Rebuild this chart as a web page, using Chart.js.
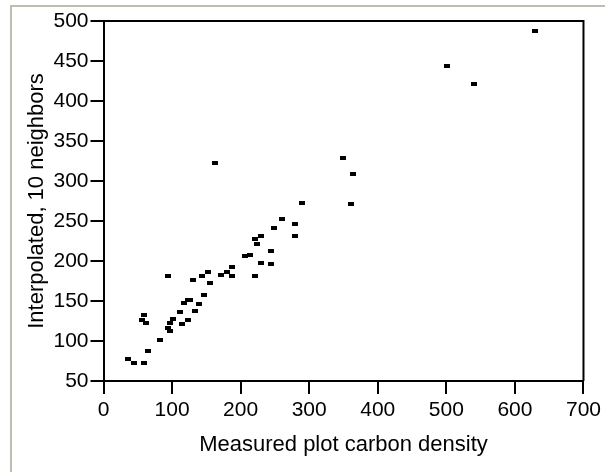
<!DOCTYPE html>
<html>
<head>
<meta charset="utf-8">
<script src="https://cdn.jsdelivr.net/npm/chart.js@4"></script>
<style>
  html, body { margin: 0; padding: 0; background: #fff; }
  #wrap { position: relative; width: 605px; height: 472px; overflow: hidden; }
  #frame { position: absolute; left: 10px; top: 5px; width: 700px; height: 600px;
           border-left: 2px solid #bdbdb0; border-top: 2px solid #bdbdb0; }
  canvas { position: absolute; left: 0; top: 0; }
</style>
</head>
<body>
<div id="wrap">
  <div id="frame"></div>
  <canvas id="c" width="605" height="472"></canvas>
</div>
<script>
// Data
const measured = [629, 501, 541, 350, 364, 361, 163, 289, 260, 280, 248, 221, 230, 280, 224, 245, 207, 213, 230, 245,
                  187, 172, 180, 187, 221, 152, 143, 131, 155, 94, 146, 117, 123, 126, 140, 134, 111, 102, 97, 123,
                  114, 94, 97, 59, 56, 62, 82, 65, 36, 44, 59];
const interpolated = [487, 444, 421, 329, 309, 271, 323, 273, 253, 246, 241, 228, 231, 231, 221, 213, 206, 208, 198, 196,
                      193, 183, 186, 181, 181, 186, 181, 176, 173, 181, 158, 148, 151, 151, 146, 138, 136, 128, 123, 126,
                      121, 116, 113, 133, 126, 123, 101, 88, 78, 73, 73];
const xTicks = [0, 100, 200, 300, 400, 500, 600, 700];
const yTicks = [50, 100, 150, 200, 250, 300, 350, 400, 450, 500];
const xTitle = 'Measured plot carbon density';
const yTitle = 'Interpolated, 10 neighbors';

const points = measured.map((x, i) => ({ x: x, y: interpolated[i] }));

// small rectangular marker
const marker = document.createElement('canvas');
marker.width = 6; marker.height = 4;
const mctx = marker.getContext('2d');
mctx.fillStyle = '#000';
mctx.fillRect(0, 0, 6, 4);

const FONT = "'Liberation Sans', Arial, sans-serif";

const framePlugin = {
  id: 'frame',
  afterDatasetsDraw(chart) {
    const { ctx, chartArea: a } = chart;
    ctx.save();
    ctx.strokeStyle = '#000';
    ctx.lineWidth = 2;
    ctx.beginPath();
    ctx.moveTo(a.left, a.top);
    ctx.lineTo(a.right, a.top);
    ctx.lineTo(a.right, a.bottom);
    ctx.stroke();
    ctx.restore();
  }
};

new Chart(document.getElementById('c'), {
  type: 'scatter',
  data: {
    datasets: [{
      data: points,
      pointStyle: marker,
      pointRadius: 3,
      backgroundColor: '#000',
      borderColor: '#000'
    }]
  },
  options: {
    responsive: false,
    animation: false,
    devicePixelRatio: 1,
    layout: { padding: { left: 0, top: 21, right: 19.5, bottom: 0 } },
    plugins: { legend: { display: false }, tooltip: { enabled: false } },
    scales: {
      x: {
        type: 'linear',
        min: xTicks[0], max: xTicks[xTicks.length - 1],
        afterBuildTicks: (s) => { s.ticks = xTicks.map(v => ({ value: v })); },
        afterFit: (s) => { s.height = 91; },
        border: { display: true, color: '#000', width: 2 },
        grid: { drawOnChartArea: false, drawTicks: true, tickLength: 13, tickColor: '#000', tickWidth: 2, color: '#000', lineWidth: 2 },
        ticks: { color: '#000', padding: 4, font: { family: FONT, size: 21 }, maxRotation: 0 },
        title: { display: true, text: xTitle, color: '#000', font: { family: FONT, size: 22 }, padding: { top: 0, bottom: 14 } }
      },
      y: {
        type: 'linear',
        min: yTicks[0], max: yTicks[yTicks.length - 1],
        afterBuildTicks: (s) => { s.ticks = yTicks.map(v => ({ value: v })); },
        afterFit: (s) => { s.width = 103.5; },
        border: { display: true, color: '#000', width: 2 },
        grid: { drawOnChartArea: false, drawTicks: true, tickLength: 13, tickColor: '#000', tickWidth: 2, color: '#000', lineWidth: 2 },
        ticks: { color: '#000', padding: 2, font: { family: FONT, size: 21 } },
        title: { display: true, text: yTitle, color: '#000', font: { family: FONT, size: 22 }, padding: { top: 24, bottom: 0 } }
      }
    }
  },
  plugins: [framePlugin]
});
</script>
</body>
</html>
